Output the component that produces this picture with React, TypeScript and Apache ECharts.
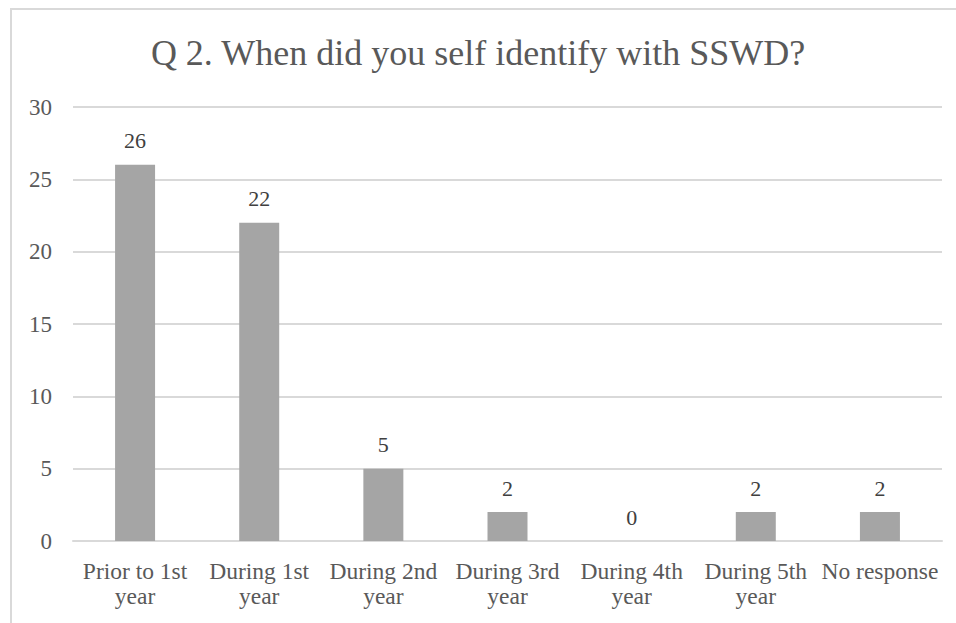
import React, { useEffect, useRef } from "react";
import * as echarts from "echarts";

const categories = [
  "Prior to 1st year",
  "During 1st year",
  "During 2nd year",
  "During 3rd year",
  "During 4th year",
  "During 5th year",
  "No response",
];
const values = [26, 22, 5, 2, 0, 2, 2];
const yTicks = { min: 0, max: 30, interval: 5 };
const titleText = "Q 2. When did you self identify with SSWD?";

const FONT = "'Liberation Serif', 'DejaVu Serif', serif";

export default function App() {
  const ref = useRef<HTMLDivElement>(null);
  useEffect(() => {
    document.body.style.margin = "0";
    const chart = echarts.init(ref.current!, null, { renderer: "svg" });
    chart.setOption({
      animation: false,
      backgroundColor: "#ffffff",
      textStyle: { fontFamily: FONT },
      title: {
        text: titleText,
        left: "center",
        top: 30,
        textStyle: { fontFamily: FONT, fontSize: 36, fontWeight: "normal", color: "#595959" },
      },
      graphic: [
        {
          type: "rect",
          shape: { x: 11, y: 9, width: 1200, height: 1000 },
          style: { fill: "none", stroke: "#d9d9d9", lineWidth: 2 },
          silent: true,
        },
      ],
      grid: { left: 73, right: 14, top: 107, bottom: 82 },
      xAxis: {
        type: "category",
        data: categories,
        axisLine: { show: true, lineStyle: { color: "#d9d9d9", width: 2 } },
        axisTick: { show: false },
        axisLabel: {
          interval: 0,
          margin: 17,
          color: "#595959",
          fontFamily: FONT,
          fontSize: 23.5,
          lineHeight: 25,
          formatter: (v: string) => v.replace(/ year$/, "\nyear"),
        },
      },
      yAxis: {
        type: "value",
        min: yTicks.min,
        max: yTicks.max,
        interval: yTicks.interval,
        axisLine: { show: false },
        axisTick: { show: false },
        splitLine: { lineStyle: { color: "#d9d9d9", width: 2 } },
        axisLabel: { margin: 21, color: "#595959", fontFamily: FONT, fontSize: 23 },
      },
      series: [
        {
          type: "bar",
          data: values,
          barWidth: 40,
          itemStyle: { color: "#a5a5a5" },
          label: {
            show: true,
            position: "top",
            distance: 13,
            color: "#404040",
            fontFamily: FONT,
            fontSize: 22,
          },
        },
      ],
    });
    return () => chart.dispose();
  }, []);
  return <div ref={ref} style={{ width: 956, height: 623 }} />;
}
